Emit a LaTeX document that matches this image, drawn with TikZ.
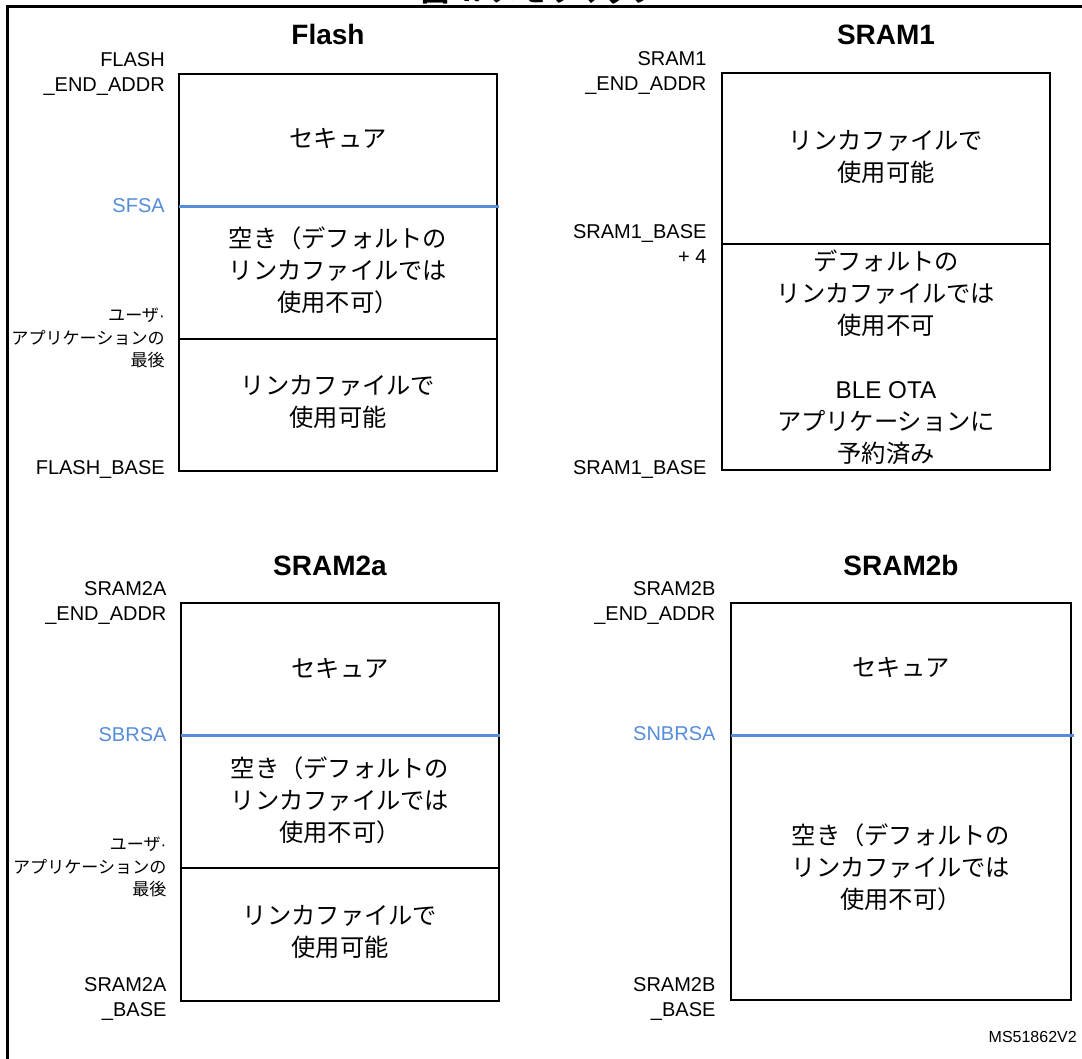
\documentclass[tikz,border=0pt]{standalone}
\usepackage{fontspec}
\setmainfont{Liberation Sans}
\newfontfamily\jp{Noto Sans CJK JP}
\definecolor{addrblue}{RGB}{86,141,219}
\begin{document}
\begin{tikzpicture}[x=0.75pt,y=-0.75pt,
  membox/.style={line width=1.5pt, draw=black},
  blueline/.style={line width=2.25pt, draw=addrblue},
  frameline/.style={line width=1.6pt, draw=black},
  addr/.style={anchor=east, align=right, inner sep=0pt, font=\fontsize{15}{18.75}\selectfont},
  addrjp/.style={anchor=east, align=right, inner sep=0pt, font=\jp\fontsize{12.8}{17}\selectfont},
  region/.style={align=center, inner sep=0pt, font=\jp\fontsize{18.2}{24}\selectfont},
  memtitle/.style={anchor=base, inner sep=0pt, font=\bfseries\fontsize{21}{25}\selectfont},
]
\useasboundingbox (0,0) rectangle (1082,1059);
\fill[white] (0,0) rectangle (1082,1059);

% frame and cut-off figure title
\draw[frameline] (7.5,1070) -- (7.5,6.5) -- (1095,6.5);
\node[anchor=base, inner sep=0pt, font=\jp\bfseries\fontsize{21}{25}\selectfont] (figtitle) at (540,2) {図 4. メモリマップ};

% ---------------- Flash ----------------
\node[memtitle] (tflash) at (328,45) {Flash};
\draw[membox] (179.3,74) rectangle (497.3,470.7);
\draw[membox] (179.3,338.7) -- (497.3,338.7);
\draw[blueline] (179.3,206.3) -- (498.5,206.3);
\node[addr] (fend) at (165,74) {FLASH\\\_END\_ADDR};
\node[addr, text=addrblue] (sfsa) at (165,206) {SFSA};
\node[addrjp] (fuser) at (165,338) {ユーザ{\rmfamily ·}\\アプリケーションの\\最後};
\node[addr] (fbase) at (165,470) {FLASH\_BASE};
\node[region] (fsec) at (338,138) {セキュア};
\node[region] (ffree) at (338,270) {空き（デフォルトの\\リンカファイルでは\\使用不可）};
\node[region] (fuse) at (338,402) {リンカファイルで\\使用可能};

% ---------------- SRAM1 ----------------
\node[memtitle] (tsram1) at (886,45) {SRAM1};
\draw[membox] (722.3,73.3) rectangle (1050,470);
\draw[membox] (722.3,244) -- (1050,244);
\node[addr] (s1end) at (706.7,73) {SRAM1\\\_END\_ADDR};
\node[addr] (s1base4) at (706.7,244) {SRAM1\_BASE\\+ 4};
\node[addr] (s1base) at (706.7,470) {SRAM1\_BASE};
\node[region] (s1use) at (886,157) {リンカファイルで\\使用可能};
\node[region] (s1res) at (886,357) {デフォルトの\\リンカファイルでは\\使用不可\\[24pt]{\rmfamily BLE OTA}\\アプリケーションに\\予約済み};

% ---------------- SRAM2a ----------------
\node[memtitle] (tsram2a) at (330,575) {SRAM2a};
\draw[membox] (181,603.3) rectangle (499,1000.7);
\draw[membox] (181,868.3) -- (499,868.3);
\draw[blueline] (181,735.7) -- (500.3,735.7);
\node[addr] (s2aend) at (166.7,603) {SRAM2A\\\_END\_ADDR};
\node[addr, text=addrblue] (sbrsa) at (166.7,735) {SBRSA};
\node[addrjp] (s2auser) at (166.7,867) {ユーザ{\rmfamily ·}\\アプリケーションの\\最後};
\node[addr] (s2abase) at (166.7,999) {SRAM2A\\\_BASE};
\node[region] (s2asec) at (340,668) {セキュア};
\node[region] (s2afree) at (340,800) {空き（デフォルトの\\リンカファイルでは\\使用不可）};
\node[region] (s2ause) at (340,932) {リンカファイルで\\使用可能};

% ---------------- SRAM2b ----------------
\node[memtitle] (tsram2b) at (901,575) {SRAM2b};
\draw[membox] (730.7,602.7) rectangle (1071,1000);
\draw[blueline] (730.7,735) -- (1073.5,735);
\node[addr] (s2bend) at (715.7,603) {SRAM2B\\\_END\_ADDR};
\node[addr, text=addrblue] (snbrsa) at (715.7,734) {SNBRSA};
\node[addr] (s2bbase) at (715.7,999) {SRAM2B\\\_BASE};
\node[region] (s2bsec) at (901,667) {セキュア};
\node[region] (s2bfree) at (901,867) {空き（デフォルトの\\リンカファイルでは\\使用不可）};

\node[anchor=east, inner sep=0pt, font=\fontsize{12}{14}\selectfont] (code) at (1077,1037) {MS51862V2};
\end{tikzpicture}
\end{document}
